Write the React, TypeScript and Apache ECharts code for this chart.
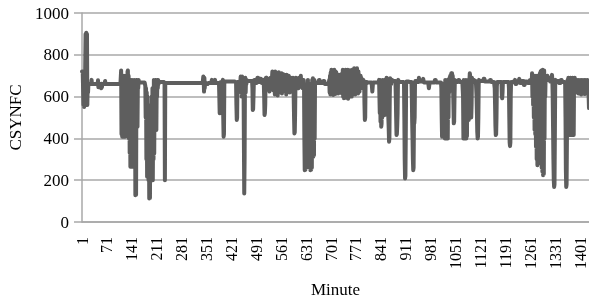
import React, { useEffect, useRef } from "react";
import * as echarts from "echarts";

// CSYNFC per minute as [value, repeat] runs or single values
const csynfcSegments: (number | [number, number])[] = [
  [720, 4],
  560, 700, 550, 720, 560, 740,
  900, 880, 905, 880, 900,
  560, 660, 620,
  [660, 9], 680, [660, 17], 678, 645, [660, 7], 640, 662, 645, [660, 8], 675, [660, 44],
  725, 420, 700, 408, 660, 410, 690, 408, 700, 430,
  680, 408, 660, 420, 700, 410, 690, 560, 720, 725,
  500, 700, 400, 680, 330, 660, 264, 640, 270, 680,
  264, 650, 300, 680, 450, 670, 400, 680, 350, 660,
  128, 600, 130, 680, 460, 680, 456, 670, 640, 680,
  [668, 17],
  660, 650, 500, 640, 300, 620, 216, 600, 250, 560,
  200, 520, 112, 400, 115, 500, 250, 560, 200, 600,
  210, 640, 200, 500, 300, 680, 328, 660, 440, 680,
  450, 680, 440, 670, 600, 680, 640, 680, 660,
  [670, 16],
  660, 200, 660,
  [665, 106],
  696, 680, 624, 690, 640, 670, [660, 8],
  [665, 10], 680, [665, 8], 680, [665, 7],
  [665, 4], 600, 520, 530, 640, [670, 6], 680, 500, 408, 420, 660,
  [672, 29],
  [670, 4], 560, 488, 500, 670,
  [670, 8],
  696, 620, 690, 600, 696, 640, 680, 620, 670, 400, 136, 300, 660, 690, 620, 680, 660, 680,
  [675, 15],
  640, 536, 540, 600, 670,
  [680, 5], [665, 4], [690, 3], [670, 5], [685, 4], [665, 5], 680,
  660, 600, 512, 520, 560, 680, 690, 680, 690,
  [685, 6], 650, [624, 2], 650, [690, 5],
  720, 650, 700, 630, 715, 640, 690, 610, 720, 660,
  705, 620, 712, 645, 680, 605, 700, 650, 716, 630,
  690, 640, 710, 620, 700, 660, 712, 615, 695, 640,
  708, 630, 690, 650, 705, 625, 700, 640, 690, 610,
  704, 650, 695, 630, 680, 660, 700, 640, 690, 620,
  680, 660, 690, 645, 670,
  670, 680, 660, 690, 670, 600, 500, 424, 430, 520, 670, 690, 670, 680, 660,
  [680, 4], 640, [690, 3], [660, 2], 700, [670, 4], 640, [680, 3],
  660, 400, 248, 300, 250, 500, 260, 640, 300, 600, 280, 680, 320, 650, 300, 620,
  260, 660, 248, 500, 250, 640, 260, 680, 330, 688, 312, 660, 320, 680, 400, 670,
  [665, 10], [680, 3], [665, 10], [675, 4], [660, 12],
  680, 620, 700, 610, 715, 640, 728, 615, 720, 630,
  725, 608, 710, 640, 728, 620, 700, 612, 720, 650,
  715, 625, 690, 640, 705, 615, 700, 650, 690, 625,
  704, 620, 690, 640, 700, 616, 710, 630, 728, 600,
  720, 592, 725, 610, 715, 595, 728, 620, 705, 600,
  720, 612, 728, 590, 715, 620, 700, 600, 726, 610,
  720, 630, 710, 600, 728,
  620, 730, 610, 715, 630, 736, 625, 720, 610, 730,
  640, 712, 620, 736, 630, 705, 615, 720, 640, 700,
  624, 690, 650, 700, 640, 690, 660, 680, 650, 670,
  660, 680, 665,
  660, 560, 488, 500, 660, 670, 665, 670, 665,
  [668, 14], [624, 2], [668, 17],
  680, 600, 520, 680, 480, 660, 456, 470, 640, 500, 680, 512, 660, 530, 680,
  600, 512, 680, 520, 670, 540, 690, 600, 680, 640, 680, 500, 450, 384, 400, 600, 688, 670, 680, 660, 680, 670, 680,
  [675, 9], 600, 500, 416, 420, 460, 520, 660, 680,
  [670, 8],
  [670, 7], 660, 500, 300, 208, 220, 400, 660, [672, 8],
  [670, 7], 600, 480, 400, 300, 248, 260, 480, 472, 500, 670, [675, 5],
  [670, 5], [690, 2], [672, 10], [685, 2], [668, 6],
  [668, 8], [640, 2], [668, 15], [680, 3], [668, 15],
  640, 500, 408, 660, 410, 640, 420, 600, 408, 650, 400, 680, 410, 600, 408, 640, 420, 680, 400, 640, 500, 680, 620, 690, 680, 700, 690,
  700, 712, 690, 712, 680, 700, 640, 560, 472, 480, 600, 680, 670,
  [670, 8], [680, 3], [670, 10],
  600, 400, 680, 410, 660, 400, 640, 420, 680, 400, 600, 410, 670, 560, 680,
  560, 488, 520, 680, 712, 700, 680, 600, 500, 560, 690, 670, 680, 670, 680, 670, 680,
  [675, 6],
  600, 520, 430, 400, 410, 500, 660, 680,
  [675, 12], [685, 3], [672, 15], [680, 3], [670, 9],
  670, 640, 560, 460, 416, 420, 500, 650, 670, 672, 670,
  [670, 10], 600, 592, 620, [670, 4],
  [670, 13], 640, 500, 380, 363, 380, 600, 670, [668, 5],
  [672, 5], [680, 2], [660, 4], [672, 6], [685, 2], [665, 6], [675, 5], [655, 3], [672, 8], [665, 6], [680, 3], [668, 3],
  712, 600, 700, 560, 690, 500, 680, 440, 700, 420, 690, 360, 680, 300, 700, 272, 680, 280, 690, 300,
  700, 360, 712, 320, 720, 300, 725, 260, 720, 240, 728, 224, 720, 230, 725, 400, 700, 600, 690,
  [680, 4], [700, 2], [680, 4], [690, 2], [672, 4],
  690, 704, 680, 600, 450, 300, 200, 168, 180, 400, 660, 680, 670,
  [675, 8], [665, 5], [680, 4], [670, 8],
  660, 500, 250, 168, 180, 400, 660,
  680, 560, 690, 460, 680, 416, 670, 420, 690, 416, 660, 420, 680, 416, 690, 430, 670, 416, 680, 640, 690, 660, 680,
  680, 640, 670, 620, 680, 650, 672, 615, 680, 640,
  670, 625, 680, 650, 675, 610, 680, 640, 670, 630,
  680, 620, 675, 650, 680, 612, 670, 640, 680, 620,
  675, 650, 680, 640, 672, 620, 600, 545,
];

const yTicks = [0, 200, 400, 600, 800, 1000];
const xLabelStep = 70;

const csynfc: number[] = [];
csynfcSegments.forEach((s) => {
  if (Array.isArray(s)) {
    for (let i = 0; i < s[1]; i++) csynfc.push(s[0]);
  } else csynfc.push(s);
});
const minutes: string[] = csynfc.map((_, i) => String(i + 1));

const FONT = "Liberation Serif";
const GRID = "#a8a8a8";

export default function App() {
  const ref = useRef<HTMLDivElement>(null);
  useEffect(() => {
    const chart = echarts.init(ref.current!, null, { renderer: "svg" });
    chart.setOption({
      animation: false,
      grid: {
        left: 82,
        right: 0,
        top: 13,
        bottom: 77,
        containLabel: false,
        outerBoundsMode: "none",
      },
      xAxis: {
        type: "category",
        data: minutes,
        boundaryGap: false,
        name: "Minute",
        nameLocation: "middle",
        nameGap: 59,
        nameTextStyle: { fontFamily: FONT, fontSize: 17, color: "#000" },
        axisLine: { show: true, lineStyle: { color: GRID, width: 1.5 } },
        axisTick: { show: false },
        axisLabel: {
          interval: xLabelStep - 1,
          rotate: 90,
          margin: 15,
          fontFamily: FONT,
          fontSize: 16,
          color: "#000",
        },
        splitLine: { show: false },
      },
      yAxis: {
        type: "value",
        min: yTicks[0],
        max: yTicks[yTicks.length - 1],
        interval: 200,
        name: "CSYNFC",
        nameLocation: "middle",
        nameGap: 47,
        nameTextStyle: { fontFamily: FONT, fontSize: 17, color: "#000" },
        axisLine: { show: true, lineStyle: { color: GRID, width: 1.5 } },
        axisTick: { show: true, length: 8, lineStyle: { color: GRID, width: 1.5 } },
        axisLabel: {
          margin: 13,
          fontFamily: FONT,
          fontSize: 17,
          color: "#000",
          formatter: (v: number) => String(v),
        },
        splitLine: { show: true, lineStyle: { color: GRID, width: 1.5 } },
      },
      series: [
        {
          type: "line",
          data: csynfc,
          symbol: "none",
          lineStyle: { color: "#5e5e5e", width: 4, join: "round", cap: "round" },
        },
      ],
    });
    return () => chart.dispose();
  }, []);
  return (
    <div
      ref={ref}
      style={{ position: "fixed", left: 0, top: 0, width: 589, height: 299 }}
    />
  );
}
